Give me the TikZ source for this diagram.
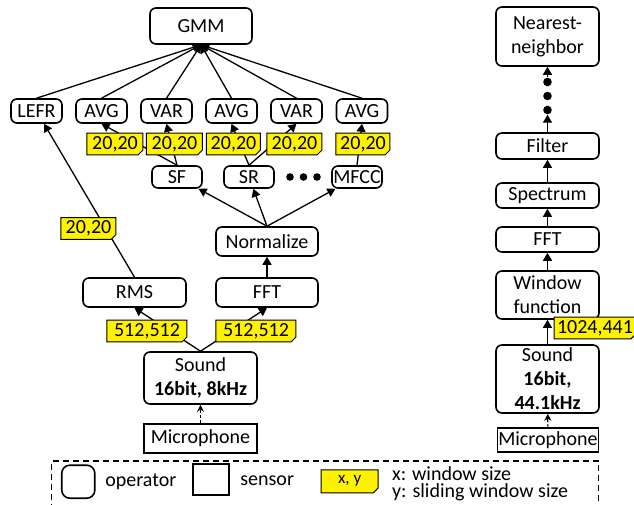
\documentclass[tikz,border=0pt]{standalone}
\usepackage{fontspec}
\setmainfont{Carlito}
\usetikzlibrary{arrows.meta,shapes.misc}

\tikzset{
    op/.style={draw, rounded corners=3pt, line width=0.8pt, inner sep=0.5pt,
        align=center, font=\fontsize{10}{12}\selectfont},
    sens/.style={draw, line width=0.8pt, inner sep=0.5pt},
    tag/.style={draw, fill=yellow, line width=0.5pt, inner sep=0.3pt,
        chamfered rectangle, chamfered rectangle corners=south east,
        chamfered rectangle xsep=1.2pt, chamfered rectangle ysep=1.2pt},
    flow/.style={-{Triangle[length=4pt,width=4.5pt]}, line width=0.65pt},
    feed/.style={-{Stealth[length=3.5pt,width=3.5pt]}, line width=0.6pt,
        dash pattern=on 1.5pt off 1pt},
    dot/.style={circle, fill, inner sep=0pt, minimum size=4.3pt}
}

\begin{document}
\begin{tikzpicture}[x=0.5pt,y=-0.5pt]
    \useasboundingbox (0,0) rectangle (634,505);

    % Left chain: classifier and feature operators
    \node[op, minimum width=51pt, minimum height=18pt] (gmm) at (201,26) {GMM};
    \node[op, minimum width=25.5pt, minimum height=12pt] (lefr) at (36.5,111) {LEFR};
    \node[op, minimum width=25.5pt, minimum height=12pt] (avga) at (101.5,111) {AVG};
    \node[op, minimum width=25.5pt, minimum height=12pt] (vara) at (166.5,111) {VAR};
    \node[op, minimum width=25.5pt, minimum height=12pt] (avgb) at (231.5,111) {AVG};
    \node[op, minimum width=25.5pt, minimum height=12pt] (varb) at (296.5,111) {VAR};
    \node[op, minimum width=25.5pt, minimum height=12pt] (avgc) at (362,111) {AVG};

    \node[op, minimum width=25pt, minimum height=11pt] (sf) at (177,177) {SF};
    \node[op, minimum width=25pt, minimum height=11pt] (sr) at (249,177) {SR};
    \node[op, minimum width=25pt, minimum height=11pt] (mfcc) at (357,177) {MFCC};
    \node[dot, minimum size=3.8pt] (gapa) at (290,177) {};
    \node[dot, minimum size=3.8pt] (gapb) at (303.5,177) {};
    \node[dot, minimum size=3.8pt] (gapc) at (317,177) {};

    \node[op, minimum width=51pt, minimum height=14.5pt] (norm) at (267,241.5) {Normalize};
    \node[op, minimum width=51.5pt, minimum height=14.5pt] (rms) at (134.5,292.5) {RMS};
    \node[op, minimum width=51pt, minimum height=14.5pt] (fft) at (267,292.5) {FFT};
    \node[op, minimum width=56.5pt, minimum height=26pt] (sound) at (200.5,378) {Sound\\\textbf{16bit, 8kHz}};
    \node[sens, minimum width=56.5pt, minimum height=14.5pt] (mic) at (200.5,438.5) {Microphone};

    \foreach \n in {lefr,avga,vara,avgb,varb,avgc}
        \draw[flow] (\n.north) -- (gmm.south);
    \draw[flow] (sf.north) -- (avga.south);
    \draw[flow] (sf.north) -- (vara.south);
    \draw[flow] (sr.north) -- (avgb.south);
    \draw[flow] (sr.north) -- (varb.south);
    \draw[flow] (mfcc.north) -- (avgc.south);
    \foreach \n in {sf,sr,mfcc}
        \draw[flow] (norm.north) -- (\n);
    \draw[flow] (fft) -- (norm);
    \draw[flow] (rms.north) -- (lefr);
    \draw[flow] (sound.north) -- (rms.south);
    \draw[flow] (sound.north) -- (fft.south);
    \draw[feed] (mic) -- (sound);

    % window sizes on the left chain
    \node[tag, minimum width=28pt, minimum height=9pt] (wina) at (115,144) {20,20};
    \node[tag, minimum width=28pt, minimum height=9pt] (winb) at (174.5,144) {20,20};
    \node[tag, minimum width=27pt, minimum height=9pt] (winc) at (233.5,144) {20,20};
    \node[tag, minimum width=27.5pt, minimum height=9pt] (wind) at (294.5,144) {20,20};
    \node[tag, minimum width=27pt, minimum height=9pt] (wine) at (363,144) {20,20};
    \node[tag, minimum width=27.5pt, minimum height=9.5pt] (winf) at (88.5,228.5) {20,20};
    \node[tag, minimum width=40pt, minimum height=9pt] (wing) at (147,331) {512,512};
    \node[tag, minimum width=40pt, minimum height=9pt] (winh) at (256,331) {512,512};

    % Right chain
    \node[op, minimum width=51.5pt, minimum height=29.5pt] (nn) at (547.5,36.5) {Nearest-\\neighbor};
    \node[dot] (moa) at (547.5,82) {};
    \node[dot] (mob) at (547.5,96) {};
    \node[dot] (moc) at (547.5,110) {};
    \node[op, minimum width=51.5pt, minimum height=13pt] (filt) at (547.5,146) {Filter};
    \node[op, minimum width=51.5pt, minimum height=12.5pt] (spec) at (547.5,195.5) {Spectrum};
    \node[op, minimum width=51.5pt, minimum height=12.5pt] (fftr) at (547.5,239.5) {FFT};
    \node[op, minimum width=51.5pt, minimum height=24pt] (win) at (547.5,295) {Window\\function};
    \node[op, minimum width=51.5pt, minimum height=34pt] (soundr) at (547.5,379) {Sound\\\textbf{16bit,}\\\textbf{44.1kHz}};
    \node[sens, minimum width=50pt, minimum height=12pt] (micr) at (548,440) {Microphone};

    \draw[flow] (moa.north) -- (nn.south);
    \draw[flow] (filt.north) -- (moc.south);
    \draw[flow] (spec) -- (filt);
    \draw[flow] (fftr) -- (spec);
    \draw[flow] (win) -- (fftr);
    \draw[flow] (soundr) -- (win);
    \draw[feed] (micr) -- (soundr);
    \node[tag, minimum width=38pt, minimum height=10pt] (winr) at (595,328) {1024,441};

    % Legend
    \draw[line width=0.6pt, dash pattern=on 3pt off 2pt] (51.7,510) -- (51.7,461) -- (598.3,461) -- (598.3,510);
    \node[op, rounded corners=4pt, minimum width=16.5pt, minimum height=16.5pt] (keyop) at (78.3,481.7) {};
    \node[anchor=west, inner sep=0pt] (keyoptxt) at (105,481.7) {operator};
    \node[sens, minimum width=18pt, minimum height=15.5pt] (keysens) at (211.3,479.5) {};
    \node[anchor=west, inner sep=0pt] (keysenstxt) at (240,481) {sensor};
    \node[tag, minimum width=28.5pt, minimum height=11.5pt, font=\fontsize{8.5}{10}\selectfont] (keytag) at (349.7,481.3) {x, y};
    \node[anchor=west, inner sep=0pt, align=left, font=\fontsize{10}{8.5}\selectfont] (keytagtxt) at (391.7,483.5) {x: window size\\y: sliding window size};
\end{tikzpicture}
\end{document}
